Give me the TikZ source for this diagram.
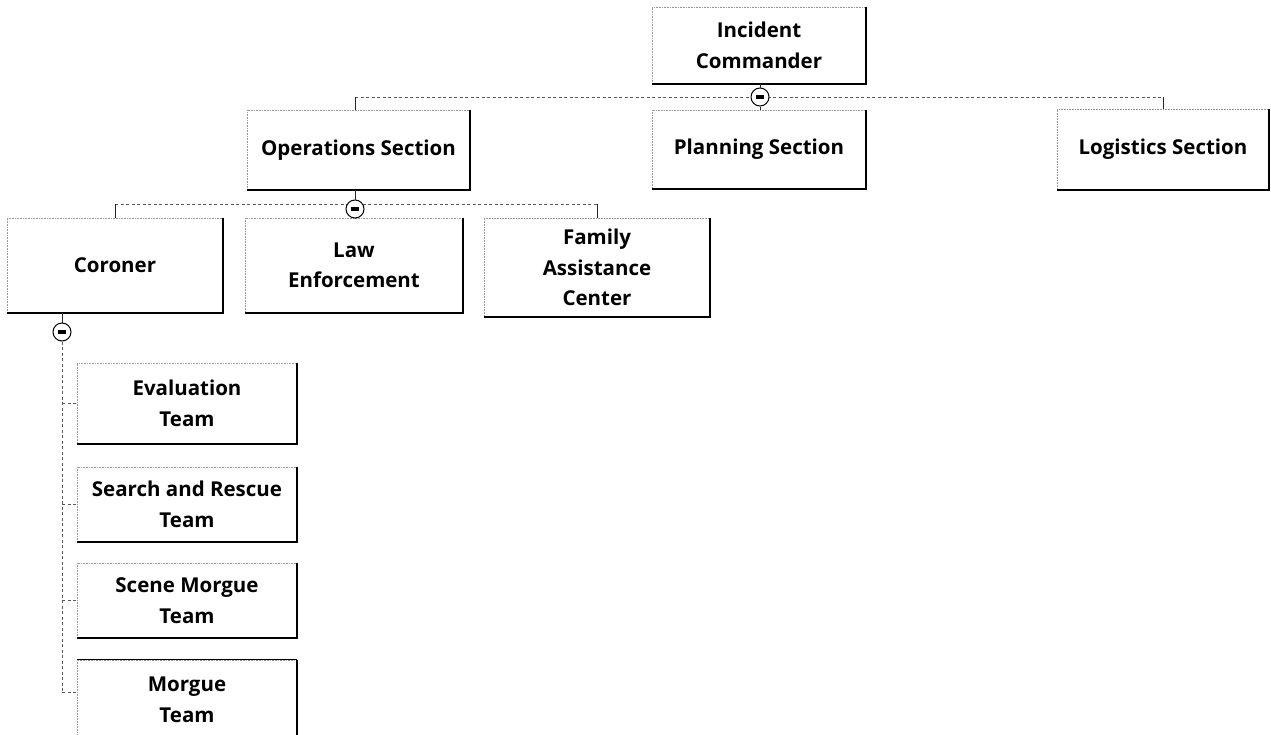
\documentclass[tikz,border=0pt]{standalone}
\usepackage{fontspec}
\setmainfont{Open Sans}
\begin{document}
\begin{tikzpicture}[x=1pt,y=-1pt,
  orgbox/.style={draw=black!40, densely dotted, line width=0.6pt, inner sep=0pt,
    align=center, text=black, font=\bfseries\fontsize{20.5}{30.5}\selectfont},
  shadeedge/.style={draw=black, line width=1.9pt, solid},
  conn/.style={draw=black!65, line width=0.8pt, dash pattern=on 3pt off 2.5pt},
  stem/.style={draw=black!85, line width=0.9pt},
  toggle/.style={circle, draw=black, line width=1pt, minimum size=18pt, inner sep=0pt, fill=white,
    path picture={\fill[black] ([xshift=-4pt,yshift=-1.6pt]path picture bounding box.center)
      rectangle ([xshift=4pt,yshift=1.6pt]path picture bounding box.center);}}
]
\useasboundingbox (0,0) rectangle (1271,734);
\clip (0,0) rectangle (1271,734);
\fill[white] (0,0) rectangle (1271,734);

% boxes
\node[orgbox, minimum width=214pt, minimum height=77pt] (ic) at (759,45.5) {Incident\\Commander};
\node[orgbox, minimum width=214pt, minimum height=79pt] (plan) at (759,149.5) {Planning Section};
\node[orgbox, minimum width=223pt, minimum height=80pt] (ops) at (358.5,150) {Operations Section};
\node[orgbox, minimum width=212pt, minimum height=81pt] (log) at (1163,149.5) {Logistics Section};
\node[orgbox, minimum width=216pt, minimum height=95pt] (cor) at (115,265.5) {Coroner};
\node[orgbox, minimum width=218pt, minimum height=95pt] (law) at (354,265.5) {Law\\Enforcement};
\node[orgbox, minimum width=226pt, minimum height=99pt] (fam) at (597,267.5) {Family\\Assistance\\Center};
\node[orgbox, minimum width=220pt, minimum height=81pt] (eval) at (187,403.5) {Evaluation\\Team};
\node[orgbox, minimum width=220pt, minimum height=75pt] (sar) at (187,504.5) {Search and Rescue\\Team};
\node[orgbox, minimum width=220pt, minimum height=75pt] (scene) at (187,600.5) {Scene Morgue\\Team};
\node[orgbox, minimum width=220pt, minimum height=80pt] (morgue) at (187,700) {Morgue\\Team};

\foreach \n in {ic,plan,ops,log,cor,law,fam,eval,sar,scene,morgue}
  \draw[shadeedge] (\n.north east) -- (\n.south east) -- (\n.south west);
\draw[black, line width=1.1pt] (morgue.north west) -- (morgue.north east);

% level 1 connectors
\coordinate (b1l) at (355,97);
\coordinate (b1r) at (1163,97);
\draw[conn] (b1l) -- (b1r);
\draw[stem] (b1l) -- (b1l |- ops.north);
\draw[stem] (b1r) -- (b1r |- log.north);
\node[toggle] (c1) at (760,97) {};
\draw[stem] (ic.south -| c1) -- (c1.north);
\draw[stem] (c1.south) -- (c1 |- plan.north);

% level 2 connectors
\coordinate (b2l) at (115,204);
\coordinate (b2r) at (597,204);
\draw[conn] (b2l) -- (b2r);
\draw[stem] (b2l) -- (b2l |- cor.north);
\draw[stem] (b2r) -- (b2r |- fam.north);
\node[toggle] (c2) at (355,209) {};
\draw[stem] (ops.south -| c2) -- (c2.north);
\draw[stem] (c2.south) -- (c2 |- law.north);

% level 3 connectors
\node[toggle] (c3) at (62,332) {};
\draw[stem] (cor.south -| c3) -- (c3.north);
\coordinate (spine) at (62,692);
\draw[conn] (c3.south) -- (spine);
\draw[conn] (c3 |- eval.west) -- (eval.west);
\draw[conn] (c3 |- sar.west) -- (sar.west);
\draw[conn] (c3 |- scene.west) -- (scene.west);
\draw[conn] (spine) -- (spine -| morgue.west);
\end{tikzpicture}
\end{document}
